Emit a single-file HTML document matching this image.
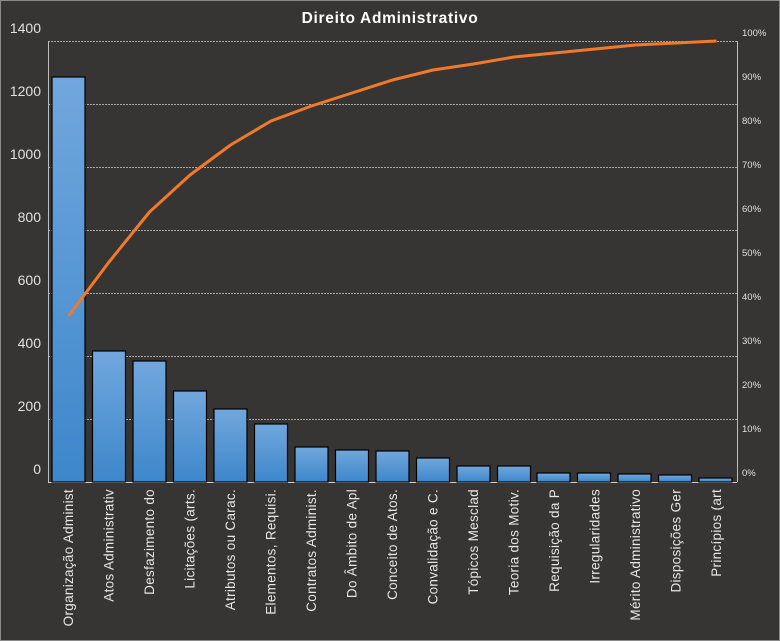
<!DOCTYPE html>
<html><head><meta charset="utf-8"><style>
body{margin:0;background:#373533;}
svg{display:block;font-family:"Liberation Sans","DejaVu Sans",sans-serif;}
</style></head><body>
<svg width="780" height="641" viewBox="0 0 780 641">
<defs><linearGradient id="g" x1="0" y1="0" x2="0" y2="1"><stop offset="0" stop-color="#71a7dd"/><stop offset="1" stop-color="#3d87cb"/></linearGradient></defs>
<rect x="0.5" y="0.5" width="779" height="640" fill="#373533" stroke="#8a8a8a"/>
<text x="390" y="23" fill="#fff" font-size="15.5" font-weight="bold" text-anchor="middle" letter-spacing="0.7">Direito  Administrativo</text>
<g stroke="#a8a8a8" stroke-dasharray="2,1" stroke-width="1">
<line x1="48" x2="737" y1="41.5" y2="41.5"/><line x1="48" x2="737" y1="104.5" y2="104.5"/><line x1="48" x2="737" y1="167.5" y2="167.5"/><line x1="48" x2="737" y1="230.5" y2="230.5"/><line x1="48" x2="737" y1="293.5" y2="293.5"/><line x1="48" x2="737" y1="356.5" y2="356.5"/><line x1="48" x2="737" y1="419.5" y2="419.5"/>
</g>
<line x1="48.5" x2="48.5" y1="41" y2="482" stroke="#bdbdbd"/>
<line x1="737.5" x2="737.5" y1="41" y2="482" stroke="#bdbdbd"/>
<line x1="48" x2="737" y1="482.5" y2="482.5" stroke="#d0d0d0"/>
<g fill="#e0e0e0" font-size="14" text-anchor="end">
<text x="41" y="33">1400</text><text x="41" y="96">1200</text><text x="41" y="159">1000</text><text x="41" y="222">800</text><text x="41" y="285">600</text><text x="41" y="348">400</text><text x="41" y="411">200</text><text x="41" y="474">0</text>
</g>
<g fill="#e0e0e0" font-size="9.5">
<text x="742" y="36">100%</text><text x="742" y="80">90%</text><text x="742" y="124">80%</text><text x="742" y="168">70%</text><text x="742" y="212">60%</text><text x="742" y="256">50%</text><text x="742" y="300">40%</text><text x="742" y="344">30%</text><text x="742" y="388">20%</text><text x="742" y="432">10%</text><text x="742" y="476">0%</text>
</g>
<g fill="url(#g)" stroke="#000" stroke-width="1.2">
<rect x="52" y="77" width="33" height="405"/>
<rect x="92.5" y="351" width="33" height="131"/>
<rect x="133" y="361" width="33" height="121"/>
<rect x="173.5" y="391" width="33" height="91"/>
<rect x="214" y="409" width="33" height="73"/>
<rect x="254.5" y="424" width="33" height="58"/>
<rect x="295" y="447" width="33" height="35"/>
<rect x="335.5" y="450" width="33" height="32"/>
<rect x="376" y="451" width="33" height="31"/>
<rect x="416.5" y="458" width="33" height="24"/>
<rect x="457" y="466" width="33" height="16"/>
<rect x="497.5" y="466" width="33" height="16"/>
<rect x="537" y="473" width="33" height="9"/>
<rect x="577.5" y="473" width="33" height="9"/>
<rect x="618" y="474" width="33" height="8"/>
<rect x="658.5" y="475" width="33" height="7"/>
<rect x="699" y="478" width="33" height="4"/>
</g>
<polyline fill="none" stroke="#f07a2a" stroke-width="3" stroke-linejoin="round" points="68.5,316 109,262 149.5,212 190,175 230.5,145 271,121 311.5,106 352,93 392.5,80 433,70 473.5,64 514,57 554.5,53 595,49 635.5,45 676,43 716.5,41"/>
<g fill="#e6e6e6" font-size="13.5" text-anchor="end" letter-spacing="0.3">
<text transform="translate(73,489) rotate(-90)">Organização Administ</text>
<text transform="translate(113.5,489) rotate(-90)">Atos Administrativ</text>
<text transform="translate(154,489) rotate(-90)">Desfazimento do</text>
<text transform="translate(194.5,489) rotate(-90)">Licitações (arts.</text>
<text transform="translate(235,489) rotate(-90)">Atributos  ou Carac.</text>
<text transform="translate(275.5,489) rotate(-90)">Elementos, Requisi.</text>
<text transform="translate(316,489) rotate(-90)">Contratos Administ.</text>
<text transform="translate(356.5,489) rotate(-90)">Do Âmbito de Apl</text>
<text transform="translate(397,489) rotate(-90)">Conceito de Atos.</text>
<text transform="translate(437.5,489) rotate(-90)">Convalidação e C.</text>
<text transform="translate(478,489) rotate(-90)">Tópicos Mesclad</text>
<text transform="translate(518.5,489) rotate(-90)">Teoria dos Motiv.</text>
<text transform="translate(559,489) rotate(-90)">Requisição da P</text>
<text transform="translate(599.5,489) rotate(-90)">Irregularidades</text>
<text transform="translate(640,489) rotate(-90)">Mérito  Administrativo</text>
<text transform="translate(680.5,489) rotate(-90)">Disposições Ger</text>
<text transform="translate(721,489) rotate(-90)">Princípios (art</text>
</g>
</svg>
</body></html>
